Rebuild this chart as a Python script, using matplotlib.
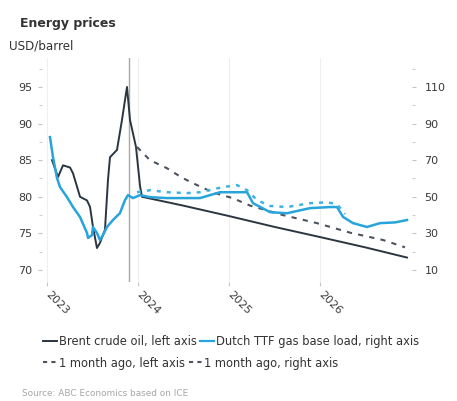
# -----------------------------------------------------------------------------
# Imports
# -----------------------------------------------------------------------------

import matplotlib

matplotlib.use("Agg")
import matplotlib.pyplot as plt
from matplotlib import rcParams
from matplotlib.lines import Line2D
from matplotlib.ticker import MultipleLocator

## Matplotlib params
rcParams["font.family"] = ["DejaVu Sans"]
rcParams["font.size"] = 8

# -----------------------------------------------------------------------------
# Data (x in fractional years)
# -----------------------------------------------------------------------------

brent_x = [2023.055, 2023.121, 2023.176, 2023.253, 2023.286, 2023.363, 2023.440,
           2023.473, 2023.505, 2023.549, 2023.582, 2023.637, 2023.670, 2023.692,
           2023.769, 2023.824, 2023.879, 2023.912, 2023.978, 2024.022, 2024.044,
           2024.495, 2024.989, 2025.495, 2026.000, 2026.495, 2026.956]
brent_y = [85.0, 82.7, 84.3, 84.0, 83.2, 80.0, 79.5,
           78.6, 75.9, 73.0, 73.7, 75.5, 82.3, 85.4,
           86.4, 90.5, 95.0, 90.5, 86.8, 81.5, 80.0,
           78.8, 77.4, 75.9, 74.5, 73.1, 71.7]

brent_prev_x = [2023.989, 2024.132, 2024.319, 2024.484, 2024.648, 2024.824, 2025.044,
                2025.231, 2025.593, 2025.967, 2026.330, 2026.692, 2026.934]
brent_prev_y = [86.8, 85.0, 83.9, 82.6, 81.6, 80.6, 79.8,
                78.8, 77.5, 76.4, 75.1, 74.1, 73.1]

gas_x = [2023.033, 2023.066, 2023.110, 2023.143, 2023.220, 2023.286, 2023.363,
         2023.440, 2023.451, 2023.495, 2023.505, 2023.549, 2023.582, 2023.615,
         2023.659, 2023.725, 2023.802, 2023.857, 2023.890, 2023.945, 2024.022,
         2024.132, 2024.319, 2024.681, 2024.901, 2025.121, 2025.198, 2025.264,
         2025.451, 2025.637, 2025.890, 2026.110, 2026.187, 2026.253, 2026.363,
         2026.516, 2026.659, 2026.824, 2026.956]
gas_y = [82.6, 71.6, 60.2, 55.3, 49.8, 44.4, 38.9,
         30.2, 27.5, 29.1, 33.5, 30.2, 26.4, 29.1,
         33.5, 37.3, 41.1, 48.2, 50.9, 49.3, 50.9,
         49.8, 49.3, 49.3, 52.5, 52.5, 52.5, 46.5,
         41.6, 41.0, 43.8, 44.4, 44.4, 39.0, 35.6,
         33.5, 35.6, 36.0, 37.3]

gas_prev_x = [2023.989, 2024.132, 2024.319, 2024.538, 2024.681, 2024.934, 2025.088,
              2025.198, 2025.308, 2025.451, 2025.637, 2025.890, 2026.077, 2026.187,
              2026.275]
gas_prev_y = [52.5, 53.6, 52.5, 52.0, 52.5, 55.3, 56.4,
              53.6, 48.2, 45.0, 44.4, 46.5, 47.0, 46.0,
              40.5]

year_ticks = [2023, 2024, 2025, 2026]
year_labels = ["2023", "2024", "2025", "2026"]
left_ticks = [70, 75, 80, 85, 90, 95]
right_ticks = [10, 30, 50, 70, 90, 110]
today = 2023.90

# -----------------------------------------------------------------------------
# Styles
# -----------------------------------------------------------------------------

BRENT = "#2c3641"
BRENT_PREV = "#4d545e"
GAS = "#27a4da"
GAS_PREV = "#3db3e3"
TICK = "#c4c4c4"
LABEL = "#3a3a3a"

LEFT_LIM = (68.36, 98.96)


def left_to_right(v: float) -> float:
    # left 70 <-> right 10, left 95 <-> right 110
    return 10 + (v - 70) * 4


# -----------------------------------------------------------------------------
# Main
# -----------------------------------------------------------------------------


def main() -> None:
    W, H = 457, 401
    fig = plt.figure(figsize=(W / 100, H / 100), dpi=100)
    ax = fig.add_axes([42 / W, 1 - 282 / H, 370 / W, 224 / H])
    ax2 = ax.twinx()

    ax.set_xlim(2022.945, 2027.011)
    ax.set_ylim(*LEFT_LIM)
    ax2.set_ylim(left_to_right(LEFT_LIM[0]), left_to_right(LEFT_LIM[1]))

    for a in (ax, ax2):
        for s in a.spines.values():
            s.set_visible(False)

    # grid + today line
    ax.set_xticks(year_ticks)
    ax.set_xticklabels(year_labels, rotation=-45, ha="left", va="center",
                       rotation_mode="anchor")
    ax.grid(axis="x", color="#efefef", lw=0.8)
    ax.set_axisbelow(True)
    ax.axvline(today, color="#a8a8a8", lw=1.0, zorder=1)

    # lines
    ax.plot(brent_x, brent_y, color=BRENT, lw=1.4, zorder=3)
    ax.plot(brent_prev_x, brent_prev_y, color=BRENT_PREV, lw=1.5,
            dashes=(2.5, 3), zorder=3)
    ax2.plot(gas_x, gas_y, color=GAS, lw=1.8, zorder=3)
    ax2.plot(gas_prev_x, gas_prev_y, color=GAS_PREV, lw=1.8,
             dashes=(1.6, 2.4), zorder=3)

    # ticks
    ax.set_yticks(left_ticks)
    ax.yaxis.set_minor_locator(MultipleLocator(2.5))
    ax2.set_yticks(right_ticks)
    ax2.yaxis.set_minor_locator(MultipleLocator(10))
    ax.tick_params(axis="y", which="major", length=3, color=TICK,
                   labelcolor=LABEL, labelsize=8, pad=4)
    ax.tick_params(axis="y", which="minor", length=2, color=TICK)
    ax2.tick_params(axis="y", which="major", length=3, color=TICK,
                    labelcolor=LABEL, labelsize=8, pad=6)
    ax2.tick_params(axis="y", which="minor", length=2, color=TICK)
    ax.tick_params(axis="x", length=3, color=TICK, labelcolor=LABEL,
                   labelsize=8, pad=5)

    # titles
    fig.text(20 / W, 1 - 23 / H, "Energy prices", fontsize=9,
             fontweight="bold", color="#333333", va="center")
    fig.text(9 / W, 1 - 46 / H, "USD/barrel", fontsize=8.6,
             color="#333333", va="center")

    # legend rows
    row1 = [
        Line2D([], [], color=BRENT, lw=1.4, label="Brent crude oil, left axis"),
        Line2D([], [], color=GAS, lw=1.6, label="Dutch TTF gas base load, right axis"),
    ]
    row2 = [
        Line2D([], [], color=BRENT_PREV, lw=1.5, dashes=(2, 2),
               label="1 month ago, left axis"),
        Line2D([], [], color=BRENT_PREV, lw=1.5, dashes=(2, 2),
               label="1 month ago, right axis"),
    ]
    for handles, y in ((row1, 342), (row2, 363)):
        leg = fig.legend(handles=handles, loc="center left",
                         bbox_to_anchor=(43 / W, 1 - y / H), ncol=2,
                         frameon=False, handlelength=1.2, handletextpad=0.15,
                         columnspacing=0.35, borderpad=0, borderaxespad=0,
                         fontsize=8.3)
        for t in leg.get_texts():
            t.set_color("#333333")

    fig.text(22 / W, 1 - 393 / H, "Source: ABC Economics based on ICE",
             fontsize=6.4, color="#a6a6a6", va="center")

    fig.savefig("out.png", dpi=100)


if __name__ == "__main__":
    main()
